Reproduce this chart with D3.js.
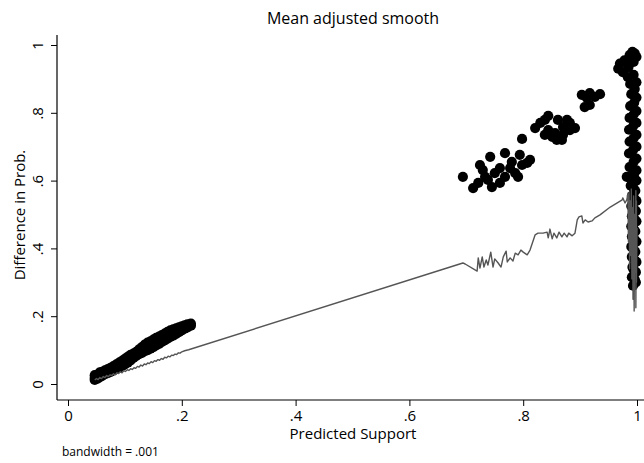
<!DOCTYPE html>
<html>
<head>
<meta charset="utf-8">
<script src="https://cdn.jsdelivr.net/npm/d3@7"></script>
<style>
  body { margin: 0; background: #fff; }
  text { font-family: "Open Sans", sans-serif; fill: #000; }
</style>
</head>
<body>
<svg id="chart" width="644" height="463"></svg>
<script>
// scatter: low support group
const lowPoints = [
  [0.047, 0.012], [0.047, 0.018], [0.047, 0.026], [0.052, 0.016], [0.052, 0.028],
  [0.056, 0.020], [0.056, 0.034], [0.060, 0.024], [0.060, 0.036], [0.065, 0.029],
  [0.065, 0.040], [0.070, 0.032], [0.070, 0.044], [0.075, 0.036], [0.075, 0.048],
  [0.080, 0.040], [0.080, 0.053], [0.085, 0.044], [0.085, 0.058], [0.090, 0.048],
  [0.090, 0.063], [0.095, 0.053], [0.095, 0.068], [0.100, 0.058], [0.100, 0.074],
  [0.105, 0.063], [0.105, 0.080], [0.110, 0.070], [0.110, 0.086], [0.115, 0.077],
  [0.115, 0.090], [0.120, 0.083], [0.120, 0.095], [0.125, 0.088], [0.125, 0.102],
  [0.130, 0.092], [0.130, 0.109], [0.135, 0.097], [0.135, 0.116], [0.140, 0.100],
  [0.140, 0.122], [0.145, 0.104], [0.145, 0.126], [0.150, 0.109], [0.150, 0.131],
  [0.155, 0.114], [0.155, 0.136], [0.160, 0.118], [0.160, 0.140], [0.165, 0.124],
  [0.165, 0.144], [0.170, 0.129], [0.170, 0.149], [0.175, 0.134], [0.175, 0.154],
  [0.180, 0.139], [0.180, 0.158], [0.185, 0.143], [0.185, 0.161], [0.190, 0.148],
  [0.190, 0.164], [0.195, 0.153], [0.195, 0.167], [0.200, 0.158], [0.200, 0.170],
  [0.205, 0.163], [0.205, 0.173], [0.210, 0.167], [0.210, 0.176], [0.216, 0.172],
  [0.216, 0.178]
];

// scatter: mid support group
const midPoints = [
  [0.694, 0.611], [0.712, 0.578], [0.721, 0.593], [0.724, 0.646], [0.729, 0.631],
  [0.733, 0.611], [0.738, 0.602], [0.742, 0.670], [0.745, 0.581], [0.750, 0.622],
  [0.759, 0.593], [0.759, 0.637], [0.768, 0.681], [0.768, 0.611], [0.777, 0.637],
  [0.780, 0.655], [0.786, 0.622], [0.791, 0.611], [0.794, 0.676], [0.798, 0.646],
  [0.807, 0.652], [0.812, 0.661], [0.798, 0.723], [0.821, 0.755], [0.830, 0.770],
  [0.838, 0.779], [0.844, 0.791], [0.838, 0.735], [0.844, 0.749], [0.851, 0.729],
  [0.856, 0.740], [0.861, 0.779], [0.859, 0.720], [0.868, 0.720], [0.870, 0.758],
  [0.877, 0.779], [0.882, 0.770], [0.870, 0.735], [0.891, 0.755], [0.882, 0.749],
  [0.903, 0.853], [0.912, 0.844], [0.917, 0.858], [0.926, 0.847], [0.935, 0.855],
  [0.908, 0.817], [0.917, 0.823], [0.982, 0.611]
];

// scatter: support close to 1
const highPoints = [
  [0.993, 0.290], [0.998, 0.300], [0.991, 0.315], [0.998, 0.330], [0.992, 0.345],
  [0.999, 0.360], [0.991, 0.375], [0.997, 0.390], [0.990, 0.405], [0.999, 0.420],
  [0.991, 0.435], [0.997, 0.450], [0.990, 0.465], [0.999, 0.480], [0.991, 0.495],
  [0.998, 0.510], [0.990, 0.525], [0.999, 0.540], [0.991, 0.555], [0.997, 0.570],
  [0.989, 0.585], [0.999, 0.600], [0.996, 0.308], [0.994, 0.338], [0.995, 0.368],
  [0.994, 0.398], [0.995, 0.428], [0.994, 0.458], [0.995, 0.488], [0.994, 0.518],
  [0.995, 0.548], [0.994, 0.578], [0.986, 0.610], [0.995, 0.620], [0.999, 0.630],
  [0.987, 0.640], [0.994, 0.655], [0.999, 0.665], [0.986, 0.680], [0.993, 0.690],
  [0.999, 0.700], [0.987, 0.715], [0.994, 0.725], [0.999, 0.735], [0.986, 0.750],
  [0.993, 0.760], [0.999, 0.770], [0.987, 0.785], [0.994, 0.795], [0.999, 0.805],
  [0.988, 0.820], [0.995, 0.830], [0.999, 0.845], [0.990, 0.855], [0.996, 0.870],
  [0.988, 0.885], [0.999, 0.890], [0.984, 0.905], [0.994, 0.912], [0.975, 0.920],
  [0.967, 0.930], [0.985, 0.935], [0.970, 0.945], [0.994, 0.950], [0.978, 0.955],
  [0.999, 0.965], [0.987, 0.970], [0.996, 0.975], [0.992, 0.980]
];

// mean adjusted smooth (bandwidth .001)
const smoothLine = [
  [0.047, 0.012], [0.050, 0.016], [0.053, 0.013], [0.056, 0.019], [0.059, 0.016],
  [0.062, 0.022], [0.065, 0.019], [0.068, 0.025], [0.071, 0.022], [0.074, 0.027],
  [0.077, 0.025], [0.080, 0.030], [0.083, 0.027], [0.086, 0.033], [0.089, 0.031],
  [0.092, 0.036], [0.095, 0.033], [0.098, 0.039], [0.101, 0.037], [0.104, 0.042],
  [0.107, 0.040], [0.110, 0.045], [0.113, 0.043], [0.116, 0.048], [0.119, 0.046],
  [0.122, 0.052], [0.125, 0.050], [0.128, 0.056], [0.131, 0.053], [0.134, 0.059],
  [0.137, 0.057], [0.140, 0.062], [0.143, 0.060], [0.146, 0.066], [0.149, 0.063],
  [0.152, 0.069], [0.155, 0.067], [0.158, 0.072], [0.161, 0.070], [0.164, 0.075],
  [0.167, 0.073], [0.170, 0.079], [0.173, 0.077], [0.176, 0.082], [0.179, 0.080],
  [0.182, 0.085], [0.185, 0.084], [0.188, 0.088], [0.191, 0.087], [0.194, 0.092],
  [0.197, 0.091], [0.200, 0.095], [0.205, 0.098], [0.212, 0.101],
  [0.694, 0.357], [0.698, 0.354], [0.719, 0.333], [0.721, 0.372], [0.724, 0.342],
  [0.728, 0.375], [0.731, 0.345], [0.735, 0.366], [0.738, 0.351], [0.743, 0.389],
  [0.747, 0.345], [0.750, 0.369], [0.756, 0.357], [0.761, 0.345], [0.765, 0.375],
  [0.770, 0.392], [0.772, 0.360], [0.777, 0.372], [0.782, 0.363], [0.786, 0.386],
  [0.791, 0.381], [0.796, 0.395], [0.800, 0.389], [0.807, 0.381], [0.812, 0.395],
  [0.821, 0.440], [0.826, 0.445], [0.835, 0.445], [0.842, 0.448], [0.844, 0.431],
  [0.847, 0.457], [0.851, 0.428], [0.854, 0.445], [0.859, 0.431], [0.863, 0.448],
  [0.868, 0.434], [0.872, 0.445], [0.877, 0.434], [0.880, 0.445], [0.886, 0.437],
  [0.891, 0.445], [0.895, 0.484], [0.898, 0.493], [0.903, 0.496], [0.905, 0.475],
  [0.909, 0.484], [0.914, 0.478], [0.921, 0.481], [0.926, 0.490], [0.935, 0.499],
  [0.953, 0.522], [0.974, 0.543], [0.975, 0.549], [0.979, 0.534], [0.982, 0.543],
  [0.984, 0.560], [0.985, 0.420], [0.986, 0.565], [0.987, 0.340], [0.988, 0.540],
  [0.989, 0.380], [0.990, 0.575], [0.991, 0.310], [0.992, 0.520], [0.993, 0.250],
  [0.994, 0.555], [0.995, 0.215], [0.996, 0.500], [0.997, 0.330], [0.998, 0.570],
  [0.998, 0.225], [0.999, 0.540], [0.999, 0.300], [1.000, 0.460]
];

const xTicks = [0, 0.2, 0.4, 0.6, 0.8, 1];
const yTicks = [0, 0.2, 0.4, 0.6, 0.8, 1];
const tickLabel = v => v === 0 ? "0" : v === 1 ? "1" : String(v).replace(/^0/, "");

const svg = d3.select("#chart");
const axisX = 57, axisY = 400;

const x = d3.scaleLinear().domain([0, 1]).range([68, 637]);
const y = d3.scaleLinear().domain([0, 1]).range([384, 45]);

// points
const allPoints = lowPoints.concat(midPoints, highPoints);
svg.append("g")
  .selectAll("circle")
  .data(allPoints)
  .join("circle")
  .attr("cx", d => x(d[0]))
  .attr("cy", d => y(d[1]))
  .attr("r", 5.1)
  .attr("fill", "#000");

// smooth line on top
svg.append("path")
  .datum(smoothLine)
  .attr("fill", "none")
  .attr("stroke", "#555")
  .attr("stroke-width", 1.4)
  .attr("stroke-linejoin", "round")
  .attr("d", d3.line().x(d => x(d[0])).y(d => y(d[1])));

// x axis
const gx = svg.append("g")
  .attr("transform", `translate(0,${axisY})`)
  .call(d3.axisBottom(x).tickValues(xTicks).tickFormat(tickLabel).tickSize(6).tickPadding(4));
gx.select(".domain").remove();
gx.append("line").attr("x1", axisX).attr("x2", 644).attr("stroke", "#000").attr("stroke-width", 1.2);
gx.selectAll(".tick text").attr("font-size", 15).attr("font-family", "Open Sans").attr("fill", "#000");

// y axis
const gy = svg.append("g")
  .attr("transform", `translate(${axisX},0)`)
  .call(d3.axisLeft(y).tickValues(yTicks).tickFormat(tickLabel).tickSize(6));
gy.select(".domain").remove();
gy.append("line").attr("y1", 35).attr("y2", axisY).attr("stroke", "#000").attr("stroke-width", 1.2);
gy.selectAll(".tick text")
  .attr("x", null).attr("dy", null)
  .attr("transform", "translate(-14,0) rotate(-90)")
  .attr("text-anchor", "middle")
  .attr("font-size", 15).attr("font-family", "Open Sans").attr("fill", "#000");

// titles
svg.append("text").attr("x", 353).attr("y", 24).attr("text-anchor", "middle")
  .attr("font-size", 16).text("Mean adjusted smooth");
svg.append("text").attr("x", 353).attr("y", 439).attr("text-anchor", "middle")
  .attr("font-size", 15).text("Predicted Support");
svg.append("text").attr("transform", "translate(25,215) rotate(-90)").attr("text-anchor", "middle")
  .attr("font-size", 15).text("Difference in Prob.");
svg.append("text").attr("x", 62).attr("y", 456)
  .attr("font-size", 12).text("bandwidth = .001");
</script>
</body>
</html>
